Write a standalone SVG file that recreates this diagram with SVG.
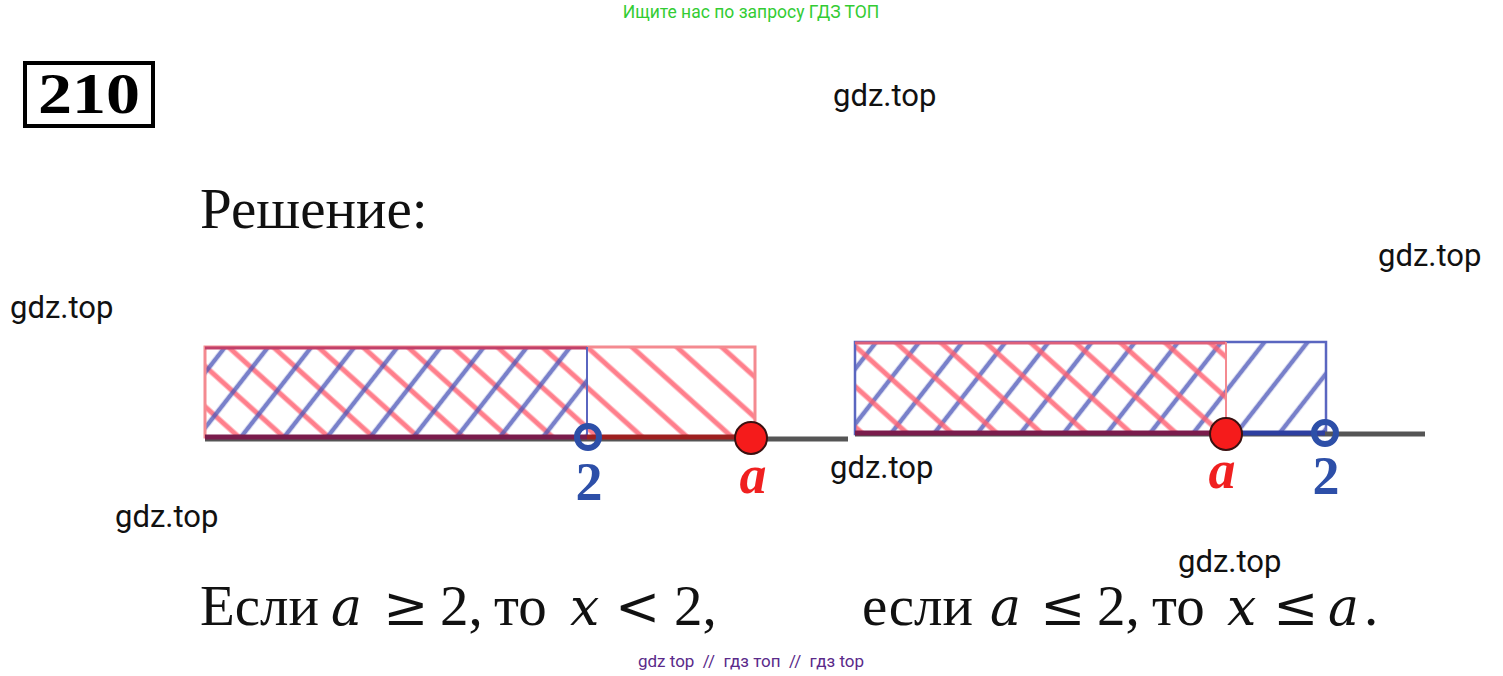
<svg xmlns="http://www.w3.org/2000/svg" width="1503" height="676" viewBox="0 0 1503 676">
<defs>
<style>
.wm{font-family:Roboto,"Liberation Sans",sans-serif;font-size:31px;fill:#111}
.serif{font-family:"Liberation Serif","DejaVu Serif",serif;fill:#111}
.it{font-style:italic}
.mv{font-family:"DejaVu Serif",serif;font-style:italic;font-size:52px}
.op{font-family:"DejaVu Serif",serif;font-size:54px}
.lbl{font-family:"Liberation Serif","DejaVu Serif",serif;font-weight:bold;font-size:54px}
.axis{stroke:#555;stroke-width:5}
.open{fill:none;stroke:#2d4fa8;stroke-width:6}
.dot{fill:#f51b1b;stroke:#3a1010;stroke-width:2}
</style>
<pattern id="hr" width="30" height="30" patternUnits="userSpaceOnUse" patternTransform="rotate(-48)">
<line x1="15" y1="0" x2="15" y2="30" stroke="#ff5f6f" stroke-width="5" stroke-opacity="0.8"/>
</pattern>
<pattern id="hb" width="34" height="34" patternUnits="userSpaceOnUse" patternTransform="rotate(38)">
<line x1="17" y1="0" x2="17" y2="34" stroke="#4a55b8" stroke-width="4.5" stroke-opacity="0.75"/>
</pattern>
</defs>
<rect width="1503" height="676" fill="#fff"/>
<text x="751" y="18" text-anchor="middle" font-family="Roboto,'Liberation Sans',sans-serif" font-size="17.5" fill="#33cc33">Ищите нас по запросу ГДЗ ТОП</text>
<g id="num">
<rect x="25" y="63" width="128" height="63" fill="#fff" stroke="#000" stroke-width="4"/>
<text x="89" y="113" text-anchor="middle" font-family="'Liberation Serif',serif" font-weight="bold" font-size="56" textLength="102" lengthAdjust="spacingAndGlyphs" fill="#000">210</text>
</g>
<text class="serif" x="200" y="228" font-size="57">Решение:</text>
<g id="wm">
<text class="wm" x="833" y="106">gdz.top</text>
<text class="wm" x="1378" y="266">gdz.top</text>
<text class="wm" x="10" y="318">gdz.top</text>
<text class="wm" x="830" y="478">gdz.top</text>
<text class="wm" x="115" y="527">gdz.top</text>
<text class="wm" x="1178" y="572">gdz.top</text>
</g>
<g id="left">
<rect x="205" y="347" width="550" height="90" fill="url(#hr)"/>
<rect x="205" y="347" width="382" height="90" fill="url(#hb)"/>
<rect x="205" y="347" width="550" height="90" fill="none" stroke="#f48a90" stroke-width="3"/>
<line x1="205" y1="348" x2="587" y2="348" stroke="#c0406a" stroke-width="3"/>
<line x1="587" y1="347" x2="587" y2="437" stroke="#5a66c0" stroke-width="2"/>
<line class="axis" x1="205" y1="439" x2="848" y2="439"/>
<line x1="205" y1="437" x2="587" y2="437" stroke="#7a1c4c" stroke-width="5"/>
<line x1="587" y1="437" x2="750" y2="437" stroke="#9e2020" stroke-width="5"/>
<circle class="open" cx="588" cy="437" r="11"/>
<circle class="dot" cx="751" cy="438" r="16"/>
<text class="lbl" x="589" y="500" text-anchor="middle" fill="#2d4fa8">2</text>
<text class="lbl it" x="753" y="493" text-anchor="middle" fill="#f02020">a</text>
</g>
<g id="right">
<rect x="855" y="342" width="471" height="92" fill="url(#hb)"/>
<rect x="855" y="342" width="371" height="92" fill="url(#hr)"/>
<rect x="855" y="342" width="471" height="92" fill="none" stroke="#5a66c0" stroke-width="2.5"/>
<line x1="855" y1="343" x2="1226" y2="343" stroke="#e0607a" stroke-width="3"/>
<line x1="1226" y1="342" x2="1226" y2="434" stroke="#f48a90" stroke-width="2"/>
<line class="axis" x1="855" y1="434" x2="1425" y2="434"/>
<line x1="855" y1="433" x2="1226" y2="433" stroke="#7a1c4c" stroke-width="5"/>
<line x1="1226" y1="433" x2="1325" y2="433" stroke="#2d3fa0" stroke-width="5"/>
<circle class="dot" cx="1226" cy="434" r="16"/>
<circle class="open" cx="1325" cy="433" r="11"/>
<text class="lbl it" x="1222" y="488" text-anchor="middle" fill="#f02020">a</text>
<text class="lbl" x="1326" y="494" text-anchor="middle" fill="#2d4fa8">2</text>
</g>
<g id="answer" class="serif" font-size="57">
<text y="625"><tspan x="200">Если</tspan><tspan class="mv" x="331">a</tspan><tspan class="op" x="383">≥</tspan><tspan x="440">2,</tspan><tspan x="494">то</tspan><tspan class="mv" x="570">x</tspan><tspan class="op" x="615">&lt;</tspan><tspan x="674">2,</tspan></text>
<text y="625"><tspan x="862">если</tspan><tspan class="mv" x="990">a</tspan><tspan class="op" x="1040">≤</tspan><tspan x="1097">2,</tspan><tspan x="1152">то</tspan><tspan class="mv" x="1227">x</tspan><tspan class="op" x="1273">≤</tspan><tspan class="mv" x="1328">a</tspan><tspan x="1364">.</tspan></text>
</g>
<text x="751" y="667" text-anchor="middle" font-family="Roboto,'Liberation Sans',sans-serif" font-size="17" fill="#5a2a8a" xml:space="preserve">gdz top  //  гдз топ  //  гдз top</text>
</svg>
